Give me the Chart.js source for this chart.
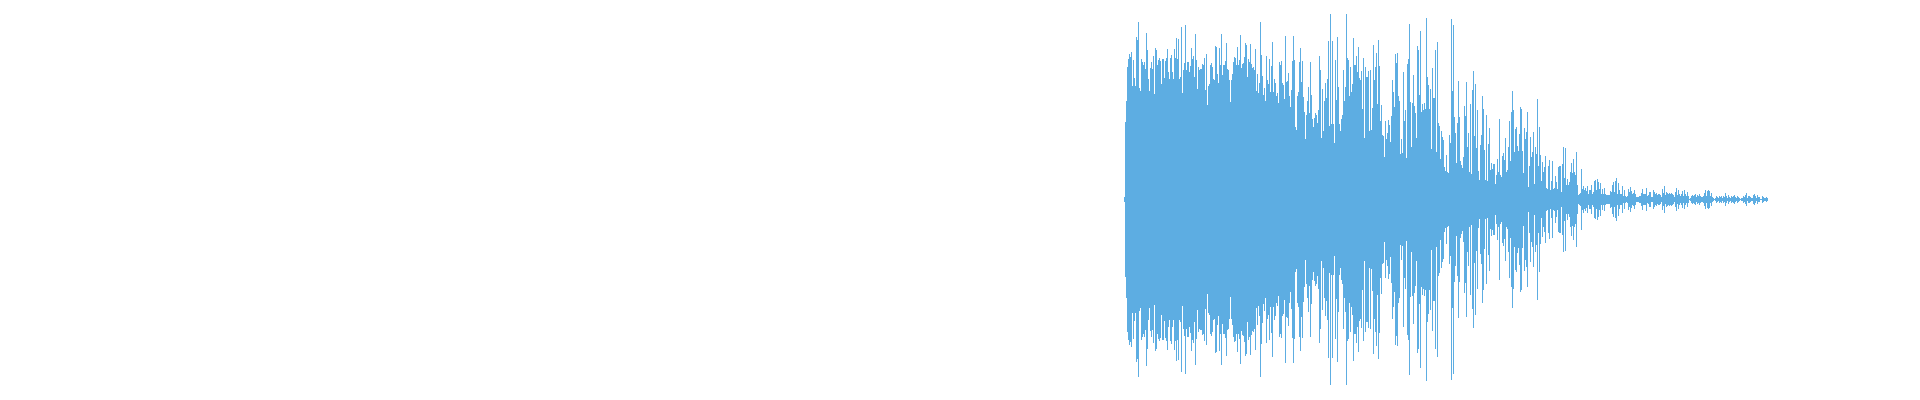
<!DOCTYPE html>
<html>
<head>
<meta charset="utf-8">
<title>Waveform</title>
<script src="https://cdn.jsdelivr.net/npm/chart.js@4"></script>
<style>
  html, body { margin: 0; padding: 0; background: #fff; }
  canvas { display: block; }
</style>
</head>
<body>
<canvas id="waveChart" width="1920" height="400"></canvas>
<script>
// Track length and where the sound starts (everything else is silence)
const trackLength = 1920;
const soundStart = 1124;

// Peak amplitude of each sample
const peaks = [
  3,78,99,133,141,146,143,148,114,140,122,114,163,160,178,112,109,141,138,135,138,131,167,150,121,109,132,138,131,144,
  106,152,150,135,140,142,139,116,141,141,122,139,142,151,128,121,142,145,128,121,151,142,162,141,161,121,123,173,107,130,
  137,175,130,138,138,128,134,152,141,144,123,166,140,111,133,130,131,131,136,135,142,110,146,95,114,116,135,137,133,121,
  120,154,153,126,117,152,135,166,125,135,135,139,157,131,130,120,98,120,126,138,143,142,135,153,135,140,165,132,136,137,
  143,157,155,123,141,138,156,136,132,133,130,151,109,126,107,117,178,145,124,105,112,99,144,120,116,141,108,134,158,108,
  121,117,104,107,97,138,135,139,117,115,101,164,118,119,127,104,93,110,139,164,140,73,70,104,108,138,152,118,139,103,
  88,61,85,99,113,87,138,105,81,73,82,87,85,77,90,144,130,62,111,69,99,117,102,121,159,74,186,76,159,76,
  57,140,100,163,113,76,69,81,85,130,99,113,186,142,140,104,
  133,108,116,162,135,135,144,128,153,122,120,129,91,142,62,133,123,123,129,69,130,70,92,155,120,133,147,96,160,134,
  79,95,65,64,43,79,61,67,80,75,58,84,120,108,93,146,137,147,104,99,46,61,47,128,79,90,42,136,141,176,
  98,53,97,125,94,87,62,154,150,105,169,88,96,90,97,91,182,123,115,91,111,51,132,102,102,150,48,158,77,74,
  41,69,63,60,33,29,45,28,27,65,57,181,109,175,83,67,37,77,119,83,39,35,32,43,94,84,118,53,67,28,
  96,26,110,129,64,116,52,90,29,20,55,65,104,91,50,20,85,19,56,72,30,37,31,36,36,16,25,41,28,81,
  25,23,44,47,40,62,28,30,53,79,39,88,109,90,48,71,73,54,49,66,93,91,49,27,72,61,68,88,13,34,
  63,43,48,68,16,53,46,101,34,73,45,19,38,28,33,44,12,11,34,40,10,19,39,11,12,24,18,11,33,34,
  34,8,36,53,22,52,15,21,15,18,28,37,27,41,28,25,48,15,5,6,7,31,11,14,10,12,9,14,6,10,
  10,15,6,8,19,20,10,21,18,11,17,6,11,6,12,6,5,5,5,5,9,8,15,18,8,19,22,6,17,10,
  6,6,14,4,10,4,3,4,11,8,13,9,6,7,10,6,3,3,3,4,4,7,11,6,6,6,12,4,5,8,
  8,3,3,10,8,6,7,5,6,6,5,3,11,7,14,5,8,7,6,7,6,7,6,5,3,8,12,5,10,6,
  4,6,9,4,10,6,4,8,4,1,2,4,5,4,5,6,3,5,4,6,4,3,3,4,7,10,4,9,10,9,
  4,7,3,2,1,2,4,3,2,4,3,4,2,4,3,7,4,2,5,3,2,4,3,4,5,3,2,4,3,2,
  1,2,2,4,3,5,7,2,4,4,3,2,2,5,6,4,2,5,3,3,1,1,4,3,2,2,3,2
];

// Centre line of the picture sits half a pixel above the middle, so the lower half is one unit shorter
const waveData = peaks.map((peak, i) => ({ x: soundStart + i + 0.5, y: [1 - peak, peak] }));

const waveChart = document.getElementById("waveChart");
new Chart(waveChart, {
  type: "bar",
  data: {
    datasets: [{
      data: waveData,
      backgroundColor: "#5DADE2",
      borderWidth: 0,
      barThickness: 1,
      inflateAmount: 0 // default 0.33 blurs the 1px bars into each other
    }]
  },
  options: {
    responsive: false,
    animation: false,
    layout: { padding: 0 },
    plugins: {
      legend: { display: false },
      tooltip: { enabled: false }
    },
    scales: {
      // bar charts pad the x axis by default, which would squeeze the track
      x: { type: "linear", min: 0, max: trackLength, offset: false, display: false },
      y: { min: -200, max: 200, display: false }
    }
  }
});
</script>
</body>
</html>
